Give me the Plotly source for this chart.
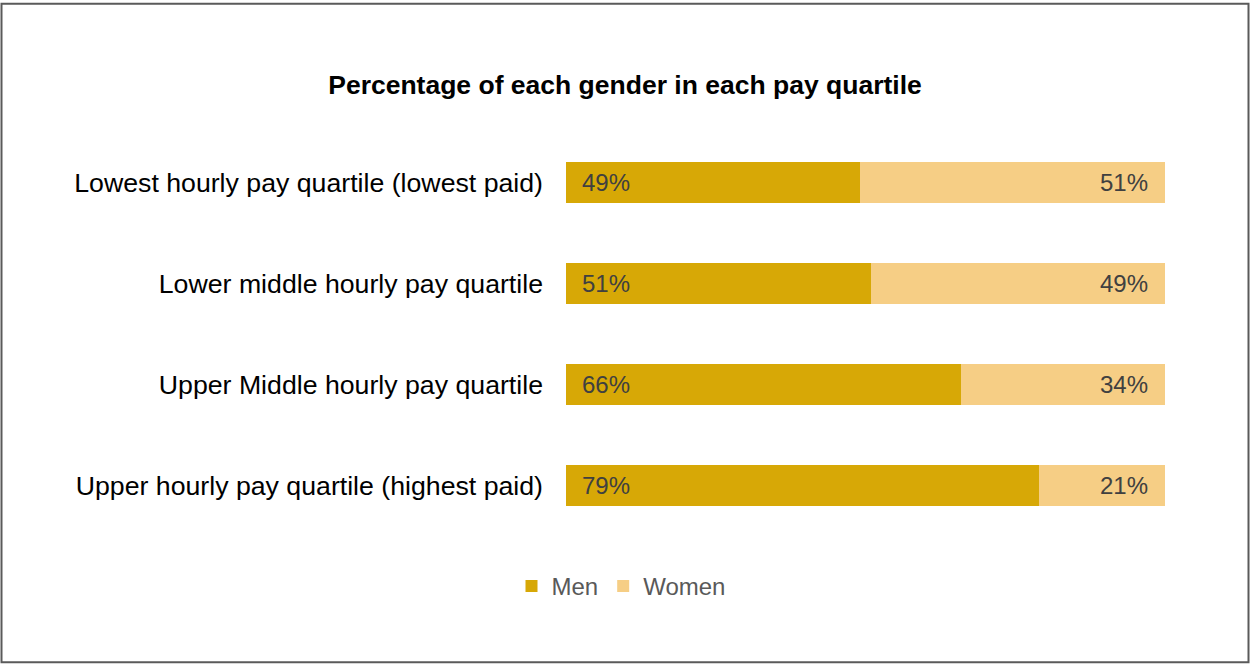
import plotly.graph_objects as go

categories = [
    "Lowest hourly pay quartile (lowest paid)",
    "Lower middle hourly pay quartile",
    "Upper Middle hourly pay quartile",
    "Upper hourly pay quartile (highest paid)",
]
men = [49, 51, 66, 79]
women = [51, 49, 34, 21]

MEN_COLOR = "#D7A806"
WOMEN_COLOR = "#F6CE85"
FONT = "Liberation Sans, Arial, sans-serif"
W, H = 1250, 665
L, R, T, B = 566, 85, 131.5, 128.5

fig = go.Figure()
fig.add_trace(go.Bar(y=categories, x=men, orientation="h", name="Men",
                     marker=dict(color=MEN_COLOR, line=dict(width=0))))
fig.add_trace(go.Bar(y=categories, x=women, orientation="h", name="Women",
                     marker=dict(color=WOMEN_COLOR, line=dict(width=0))))

# value labels: men at the left end of each bar, women at the right end
for c, m, w in zip(categories, men, women):
    fig.add_annotation(x=0, y=c, xref="x", yref="y", text=f"{m}%", showarrow=False,
                       xanchor="left", xshift=14,
                       font=dict(family=FONT, size=24, color="#404040"))
    fig.add_annotation(x=m + w, y=c, xref="x", yref="y", text=f"{w}%", showarrow=False,
                       xanchor="right", xshift=-15,
                       font=dict(family=FONT, size=24, color="#404040"))

pw, ph = W - L - R, H - T - B
fig.add_shape(type="rect", xref="paper", yref="paper",
              x0=(1.5 - L) / pw, x1=(1248.5 - L) / pw,
              y0=(H - B - 663) / ph, y1=(H - B - 3) / ph,
              line=dict(color="#5A5A5A", width=2), fillcolor="rgba(0,0,0,0)", layer="above")

fig.update_layout(
    width=W, height=H,
    barmode="stack", bargap=0.594,
    margin=dict(l=L, r=R, t=T, b=B, pad=0),
    paper_bgcolor="white", plot_bgcolor="white",
    title=dict(text="<b>Percentage of each gender in each pay quartile</b>",
               x=0.5, xref="container", xanchor="center",
               y=1 - 85 / H, yref="container", yanchor="middle",
               font=dict(family=FONT, size=26.5, color="#000000")),
    xaxis=dict(range=[0, 100], visible=False, fixedrange=True),
    yaxis=dict(autorange="reversed", showgrid=False, showline=False, ticks="",
               ticklabelstandoff=22,
               tickfont=dict(family=FONT, size=26.7, color="#000000")),
    legend=dict(orientation="h", x=(621 - L) / pw, xanchor="center",
                y=(H - B - 587) / ph, yanchor="middle",
                font=dict(family=FONT, size=24, color="#595959"),
                itemwidth=30, traceorder="normal"),
    showlegend=True,
)

fig.write_html("out.html")
